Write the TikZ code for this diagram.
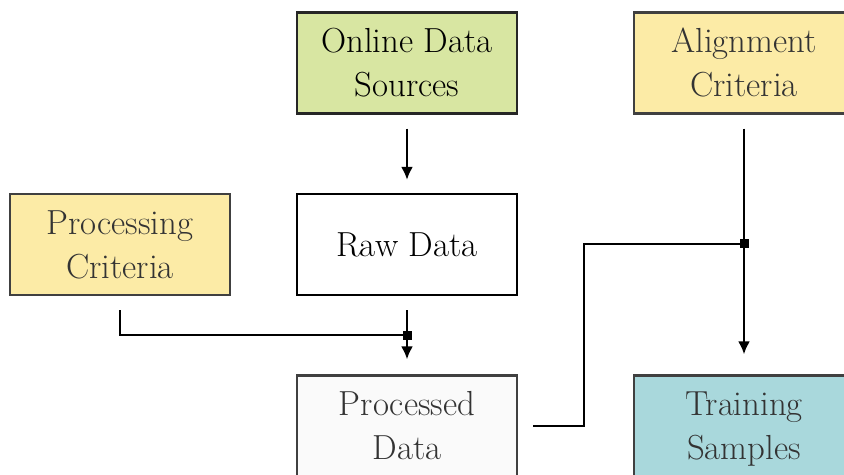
\documentclass[tikz,border=0pt]{standalone}
\usetikzlibrary{arrows.meta}
\definecolor{cgreen}{HTML}{D8E6A2}
\definecolor{cyellow}{HTML}{FCEBA6}
\definecolor{cteal}{HTML}{A9D8DC}
\definecolor{cgrayfill}{HTML}{FAFAFA}
\definecolor{cborder}{HTML}{404040}
\definecolor{ctext}{HTML}{333333}
\newcommand{\topstrut}{\rule{0pt}{18.4pt}}
\newcommand{\strutbreak}{\strut\\}
\begin{document}
\begin{tikzpicture}[x=0.5pt,y=-0.5pt,
  box/.style={draw=cborder, line width=1.1pt, minimum width=110pt, minimum height=50.5pt,
    align=center, inner sep=0pt, text=ctext, font=\fontsize{17.4}{22}\selectfont},
  arr/.style={line width=1.25pt, -{Latex[length=6.5pt,width=6pt]}},
  ln/.style={line width=1.25pt},
  junc/.style={fill=black, minimum size=4.5pt, inner sep=0pt}]
\useasboundingbox (0,0) rectangle (844,475);
\node[box, fill=cgreen, draw=black!85, text=black] (src) at (407,63) {\topstrut Online Data\strutbreak Sources\strut};
\node[box, fill=cyellow] (align) at (744,63) {\topstrut Alignment\strutbreak Criteria\strut};
\node[box, fill=cyellow] (proc) at (120,244.5) {\topstrut Processing\strutbreak Criteria\strut};
\node[box, fill=white, draw=black, text=black] (raw) at (407,244.5) {\topstrut Raw Data\strut};
\node[box, fill=cgrayfill] (pdata) at (407,426) {\topstrut Processed\strutbreak Data\strut};
\node[box, fill=cteal] (train) at (744,426) {\topstrut Training\strutbreak Samples\strut};
% junction coordinates
\coordinate (j1) at (407,335);
\coordinate (j2) at (744,244);
\coordinate (k1) at (120,335);
\coordinate (k2) at (584,426);
\coordinate (k3) at (584,244);
% arrows
\draw[arr] ([yshift=-7pt]src.south) -- ([yshift=6.5pt]raw.north);
\draw[arr] ([yshift=-7pt]raw.south) -- ([yshift=7.5pt]pdata.north);
\draw[arr] ([yshift=-7pt]align.south) -- ([yshift=10pt]train.north);
\draw[ln] ([yshift=-7pt]proc.south) -- (k1) -- (j1);
\draw[ln] ([xshift=7.5pt]pdata.east) -- (k2) -- (k3) -- (j2);
\node[junc] at (j1) {};
\node[junc] at (j2) {};
\end{tikzpicture}
\end{document}
